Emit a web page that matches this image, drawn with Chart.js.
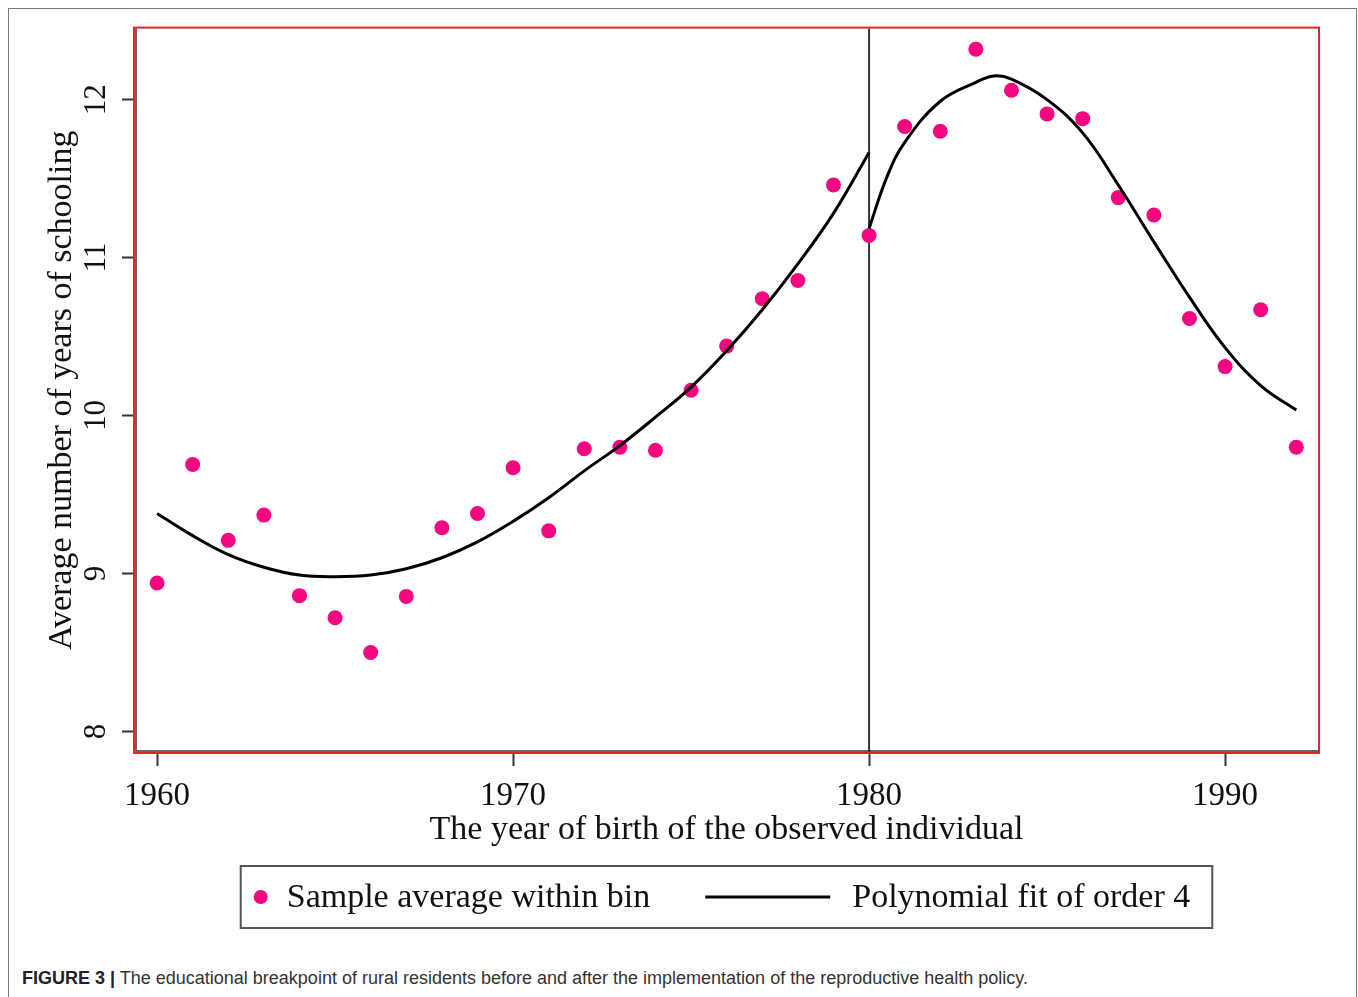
<!DOCTYPE html>
<html>
<head>
<meta charset="utf-8">
<script src="https://cdn.jsdelivr.net/npm/chart.js@4.4.1/dist/chart.umd.min.js"></script>
<style>
  html, body { margin: 0; padding: 0; background: #fff; }
  body { width: 1358px; height: 997px; position: relative; overflow: hidden; }
  #frame { position: absolute; left: 8px; top: 8px; width: 1349px; height: 1010px; border: 1px solid #777; box-sizing: border-box; }
  #wrap { position: absolute; left: 0; top: 0; width: 1358px; height: 950px; }
  #caption { position: absolute; left: 22px; top: 968px; font-family: "Liberation Sans", Arial, sans-serif; font-size: 18px; color: #333; white-space: nowrap; }
  #caption b { color: #222; }
</style>
</head>
<body>
<div id="frame"></div>
<div id="wrap"><canvas id="rdChart"></canvas></div>
<div id="caption"><b>FIGURE 3 |</b> The educational breakpoint of rural residents before and after the implementation of the reproductive health policy.</div>
<script>
// bins (year of birth) and sample means
var years = [1960, 1961, 1962, 1963, 1964, 1965, 1966, 1967, 1968, 1969, 1970,
             1971, 1972, 1973, 1974, 1975, 1976, 1977, 1978, 1979, 1980,
             1981, 1982, 1983, 1984, 1985, 1986, 1987, 1988, 1989, 1990, 1991, 1992];
var binMeans = [8.94, 9.69, 9.21, 9.37, 8.86, 8.72, 8.50, 8.855, 9.29, 9.38, 9.67,
                9.27, 9.79, 9.80, 9.78, 10.16, 10.44, 10.74, 10.855, 11.46, 11.14,
                11.83, 11.80, 12.32, 12.06, 11.91, 11.88, 11.38, 11.27, 10.615, 10.31, 10.67, 9.80];

// fitted curve, before and after the break
var fitLeftYears = [1960, 1961, 1962, 1963, 1964, 1965, 1966, 1967, 1968, 1969, 1970,
                    1971, 1972, 1973, 1974, 1975, 1976, 1977, 1978, 1979, 1980];
var fitLeft = [9.38, 9.24, 9.12, 9.04, 8.99, 8.98, 8.99, 9.03, 9.10, 9.20, 9.33,
               9.48, 9.65, 9.81, 9.99, 10.18, 10.41, 10.67, 10.96, 11.28, 11.665];
var fitRightYears = [1980, 1980.5, 1981, 1982, 1983, 1983.5, 1984, 1985, 1986, 1987, 1988, 1989, 1990, 1991, 1992];
var fitRight = [11.185, 11.51, 11.73, 11.99, 12.11, 12.15, 12.13, 12.0, 11.79, 11.46, 11.10, 10.75, 10.43, 10.19, 10.035];

var xTicks = [1960, 1970, 1980, 1990];
var yTicks = [8, 9, 10, 11, 12];
var breakYear = 1980;

var pink = '#f5057f';
var serif = '"Liberation Serif", "Times New Roman", serif';

function pairs(xs, ys) {
  return xs.map(function(x, i) { return { x: x, y: ys[i] }; });
}

// red plot frame + vertical line at the cutoff
var plotFrame = {
  id: 'plotFrame',
  beforeDatasetsDraw: function(chart) {
    var ctx = chart.ctx, a = chart.chartArea;
    var xb = chart.scales.x.getPixelForValue(breakYear);
    ctx.save();
    ctx.strokeStyle = '#333';
    ctx.lineWidth = 2;
    ctx.beginPath();
    ctx.moveTo(xb, a.top);
    ctx.lineTo(xb, a.bottom);
    ctx.stroke();
    ctx.restore();
  },
  afterDraw: function(chart) {
    var ctx = chart.ctx, a = chart.chartArea;
    ctx.save();
    ctx.strokeStyle = '#e0262b';
    ctx.lineWidth = 2;
    ctx.strokeRect(a.left - 1, a.top - 1, a.right - a.left + 2, a.bottom - a.top + 2);
    ctx.strokeStyle = '#333';
    ctx.lineWidth = 1.5;
    ctx.beginPath();
    ctx.moveTo(a.left + 1, a.top);
    ctx.lineTo(a.left + 1, a.bottom - 1);
    ctx.lineTo(a.right, a.bottom - 1);
    ctx.stroke();
    ctx.restore();
  }
};

// Stata style legend in a box under the axis title
var boxLegend = {
  id: 'boxLegend',
  afterDraw: function(chart) {
    var ctx = chart.ctx, a = chart.chartArea;
    var ds = chart.data.datasets;
    ctx.save();
    ctx.font = '34px ' + serif;
    var w1 = ctx.measureText(ds[0].label).width;
    var w2 = ctx.measureText(ds[1].label).width;
    var total = 46 + w1 + 55 + 125 + 22 + w2 + 22;
    var left = (a.left + a.right) / 2 - total / 2;
    var top = a.bottom + 114, h = 62, cy = top + h / 2;
    ctx.strokeStyle = '#555';
    ctx.lineWidth = 2;
    ctx.strokeRect(left, top, total, h);
    ctx.fillStyle = ds[0].backgroundColor;
    ctx.beginPath();
    ctx.arc(left + 20, cy, 7, 0, Math.PI * 2);
    ctx.fill();
    var x = left + 46;
    ctx.fillStyle = '#111';
    ctx.textAlign = 'left';
    ctx.textBaseline = 'middle';
    ctx.fillText(ds[0].label, x, cy + 1);
    x += w1 + 55;
    ctx.strokeStyle = ds[1].borderColor;
    ctx.lineWidth = 3;
    ctx.beginPath();
    ctx.moveTo(x, cy);
    ctx.lineTo(x + 125, cy);
    ctx.stroke();
    x += 125 + 22;
    ctx.fillText(ds[1].label, x, cy + 1);
    ctx.restore();
  }
};

new Chart(document.getElementById('rdChart'), {
  type: 'scatter',
  data: {
    datasets: [{
      label: 'Sample average within bin',
      data: pairs(years, binMeans),
      backgroundColor: pink,
      borderColor: pink,
      borderWidth: 0,
      pointRadius: 7.5,
      pointHoverRadius: 7.5,
      order: 2
    }, {
      label: 'Polynomial fit of order 4',
      type: 'line',
      data: pairs(fitLeftYears, fitLeft),
      borderColor: '#000',
      borderWidth: 3,
      pointRadius: 0,
      tension: 0.4,
      fill: false,
      order: 1
    }, {
      label: 'Polynomial fit of order 4 (after)',
      type: 'line',
      data: pairs(fitRightYears, fitRight),
      borderColor: '#000',
      borderWidth: 3,
      pointRadius: 0,
      tension: 0.4,
      fill: false,
      order: 1
    }]
  },
  options: {
    responsive: true,
    maintainAspectRatio: false,
    animation: false,
    layout: { padding: { left: 0, top: 28, right: 40, bottom: 100 } },
    plugins: {
      legend: { display: false },
      tooltip: { enabled: false }
    },
    scales: {
      x: {
        type: 'linear',
        min: 1959.38,
        max: 1992.61,
        afterBuildTicks: function(s) { s.ticks = xTicks.map(function(v) { return { value: v }; }); },
        afterFit: function(s) { s.height = 98; },
        border: { display: false },
        grid: { drawOnChartArea: false, drawTicks: true, tickLength: 14, tickWidth: 2, tickColor: '#333' },
        ticks: {
          padding: 11,
          color: '#111',
          maxRotation: 0,
          font: { family: serif, size: 33 },
          callback: function(v) { return String(v); }
        },
        title: {
          display: true,
          text: 'The year of birth of the observed individual',
          color: '#111',
          font: { family: serif, size: 34 },
          padding: { top: 0, bottom: 0 }
        }
      },
      y: {
        min: 7.87,
        max: 12.45,
        afterBuildTicks: function(s) { s.ticks = yTicks.map(function(v) { return { value: v }; }); },
        afterFit: function(s) { s.width = 135; },
        border: { display: false },
        grid: { drawOnChartArea: false, drawTicks: true, tickLength: 13, tickWidth: 2, tickColor: '#333' },
        ticks: {
          padding: 10,
          color: '#111',
          minRotation: 90,
          maxRotation: 90,
          crossAlign: 'center',
          font: { family: serif, size: 31 },
          callback: function(v) { return String(v); }
        },
        title: {
          display: true,
          text: 'Average number of years of schooling',
          color: '#111',
          font: { family: serif, size: 34 },
          padding: { top: 42, bottom: 0 }
        }
      }
    }
  },
  plugins: [plotFrame, boxLegend]
});
</script>
</body>
</html>
